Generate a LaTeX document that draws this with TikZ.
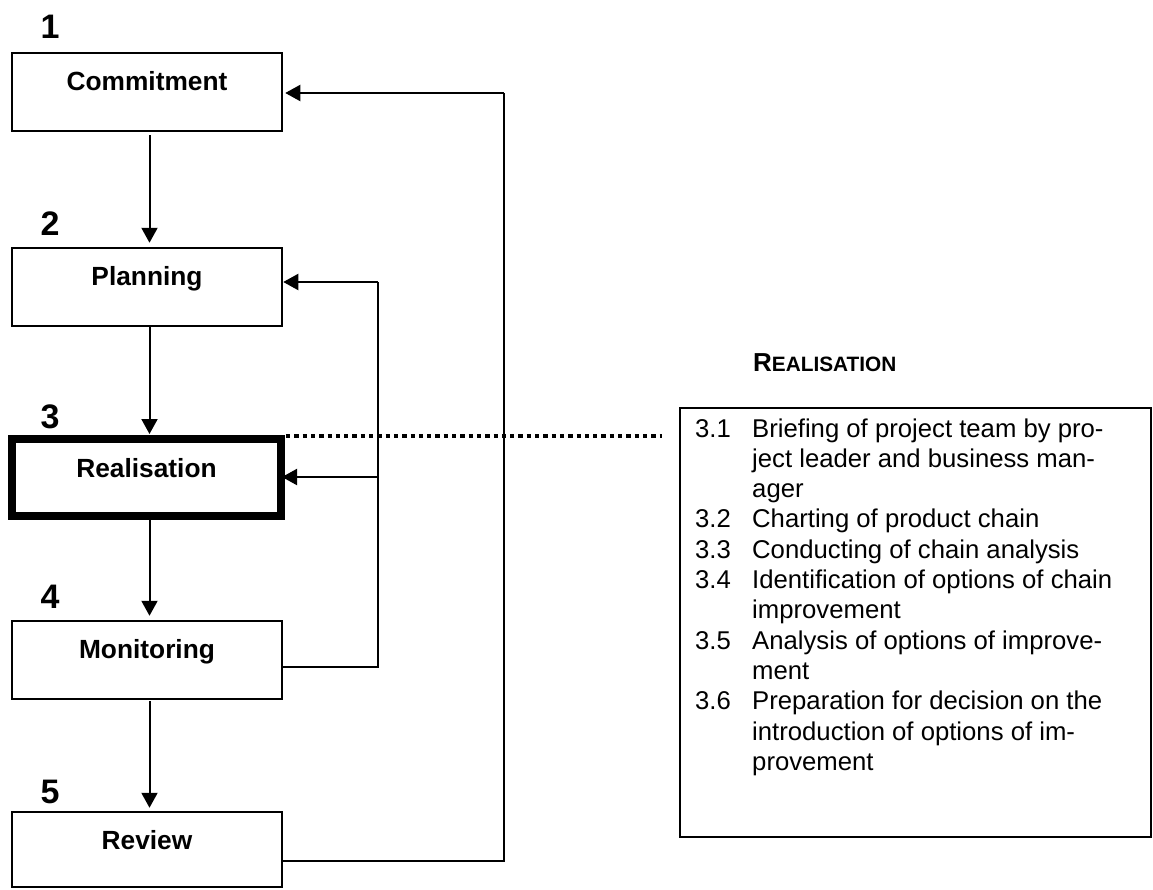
\documentclass[tikz,border=0pt]{standalone}
\usepackage{fontspec}
\setmainfont{Liberation Sans}
\usetikzlibrary{arrows.meta}
\newcommand\stepno[1]{\makebox[57pt][l]{#1}}
\begin{document}
\begin{tikzpicture}[x=1pt,y=-1pt,
  stage/.style={draw,line width=2.5pt,inner sep=0pt,minimum width=270pt,
    text height=37pt,text depth=41pt,font=\bfseries\fontsize{26.3}{30}\selectfont},
  num/.style={anchor=base,inner sep=0pt,font=\bfseries\fontsize{34}{38}\selectfont},
  conn/.style={line width=2pt},
  arr/.style={conn,-{Triangle[length=15pt,width=16pt]}},
  dotline/.style={line width=4.5pt,dash pattern=on 4.3pt off 4pt}]
\useasboundingbox (0,0) rectangle (1153,889);

% process stages
\node[stage] (commit) at (147,92) {Commitment};
\node[stage] (plan) at (147,287) {Planning};
\node[stage,line width=8pt,minimum width=269pt,text height=38pt,text depth=38.5pt]
  (real) at (146.5,477.25) {Realisation};
\node[stage] (mon) at (147,660) {Monitoring};
\node[stage,text height=37pt,text depth=38pt] (review) at (147,849.5) {Review};

% stage numbers
\node[num] (n1) at (50,38) {1};
\node[num] (n2) at (50,235) {2};
\node[num] (n3) at (50,428) {3};
\node[num] (n4) at (50,608) {4};
\node[num] (n5) at (50,803) {5};

% main sequence
\coordinate (ax) at (149.5,0);
\draw[arr] ([yshift=-3pt]commit.south -| ax) -- ([yshift=4pt]plan.north -| ax);
\draw[arr] (plan.south -| ax) -- ([yshift=1pt]real.north -| ax);
\draw[arr] (real.south -| ax) -- ([yshift=4pt]mon.north -| ax);
\draw[arr] ([yshift=-1pt]mon.south -| ax) -- ([yshift=3pt]review.north -| ax);

% feedback from monitoring
\coordinate (mt) at (378,282);
\coordinate (mm) at (378,477);
\coordinate (mb) at (378,667);
\draw[conn] (mon.east |- mb) -- (mb) -- (mt);
\draw[arr] (mt) -- (plan.east |- mt);
\draw[arr] (mm) -- ([xshift=-3pt]real.east |- mm);

% feedback from review
\coordinate (rt) at (504,93);
\coordinate (rb) at (504,861);
\draw[conn] (review.east |- rb) -- (rb) -- (rt);
\draw[arr] (rt) -- ([xshift=2pt]commit.east |- rt);

% detail of the realisation stage
\node[draw,line width=2.7pt,inner sep=0pt,minimum width=471pt,minimum height=429pt]
  (detail) at (915.5,622.5) {};
\node[anchor=base west,inner sep=0pt] (head) at (753,371)
  {\bfseries\fontsize{26}{30}\selectfont R\fontsize{20.8}{30}\selectfont EALISATION};
\node[anchor=base west,inner sep=0pt] (items) at (695,437)
  {\fontsize{25.7}{30.3}\selectfont
   \begin{tabular}[t]{@{}l@{}l@{}}
   \stepno{3.1} & Briefing of project team by pro-\\
                & ject leader and business man-\\
                & ager\\
   \stepno{3.2} & Charting of product chain\\
   \stepno{3.3} & Conducting of chain analysis\\
   \stepno{3.4} & Identification of options of chain\\
                & improvement\\
   \stepno{3.5} & Analysis of options of improve-\\
                & ment\\
   \stepno{3.6} & Preparation for decision on the\\
                & introduction of options of im-\\
                & provement
   \end{tabular}};

\coordinate (dotend) at (662,436);
\draw[dotline] (real.north east |- dotend) ++(1,0) -- (dotend);
\end{tikzpicture}
\end{document}
